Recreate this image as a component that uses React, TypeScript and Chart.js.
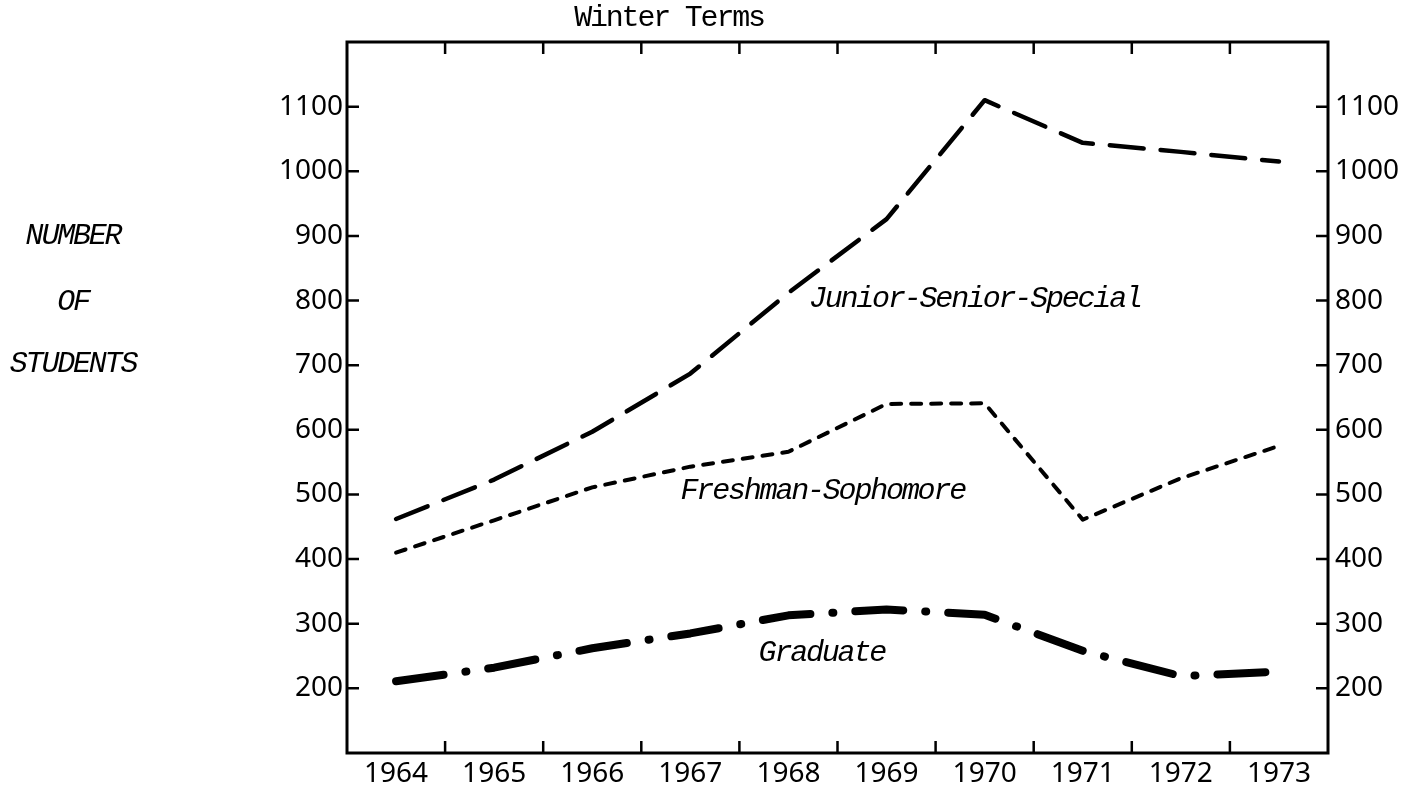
import { useEffect, useRef } from 'react';
import { Chart, registerables } from 'chart.js';

Chart.register(...registerables);

const years = ['1964', '1965', '1966', '1967', '1968', '1969', '1970', '1971', '1972', '1973'];
const juniorSeniorSpecial = [462, 523, 597, 687, 812, 926, 1110, 1044, 1030, 1015];
const freshmanSophomore = [410, 460, 511, 543, 566, 640, 641, 461, 525, 575];
const graduate = [211, 232, 262, 285, 313, 322, 314, 258, 219, 226];
const yTickValues = [200, 300, 400, 500, 600, 700, 800, 900, 1000, 1100];
const chartTitle = 'Winter Terms';
const yTitleLines = ['NUMBER', 'OF', 'STUDENTS'];
const seriesNames = ['Junior-Senior-Special', 'Freshman-Sophomore', 'Graduate'];

const W = 1415;
const H = 789;
const MONO = '"Liberation Mono", "DejaVu Sans Mono", monospace';
const TICK_FONT = { family: '"Noto Sans", "DejaVu Sans", sans-serif', size: 28 };

export default function App() {
  const ref = useRef<HTMLCanvasElement | null>(null);

  useEffect(() => {
    const canvas = ref.current;
    if (!canvas) return;

    const framePlugin = {
      id: 'frameAndText',
      afterDraw(chart: any) {
        const { ctx, chartArea: a, scales } = chart;
        const xs = scales.x;
        const ys = scales.y;
        ctx.save();
        ctx.strokeStyle = '#000';
        ctx.lineCap = 'butt';
        // inward tick marks
        ctx.lineWidth = 2.5;
        ctx.beginPath();
        for (let i = 1; i < years.length; i++) {
          const px = xs.getPixelForValue(i - 0.5);
          ctx.moveTo(px, a.bottom);
          ctx.lineTo(px, a.bottom - 12);
          ctx.moveTo(px, a.top);
          ctx.lineTo(px, a.top + 12);
        }
        for (const v of yTickValues) {
          const py = ys.getPixelForValue(v);
          ctx.moveTo(a.left, py);
          ctx.lineTo(a.left + 12, py);
          ctx.moveTo(a.right, py);
          ctx.lineTo(a.right - 12, py);
        }
        ctx.stroke();
        // frame
        ctx.lineWidth = 3;
        ctx.strokeRect(a.left, a.top, a.right - a.left, a.bottom - a.top);

        ctx.fillStyle = '#000';
        ctx.textAlign = 'center';
        ctx.textBaseline = 'middle';
        try {
          (ctx as any).letterSpacing = '-2.2px';
        } catch (e) {
          /* ignore */
        }

        // title
        ctx.font = `30px ${MONO}`;
        ctx.fillText(chartTitle, 669, 18);

        // y-axis title block
        ctx.font = `italic 30px ${MONO}`;
        const yTitleY = [236, 302, 364];
        yTitleLines.forEach((t, i) => ctx.fillText(t, 73, yTitleY[i]));

        // series labels anchored in data coordinates
        const anchors = [
          { idx: 5.9, val: 802 },
          { idx: 4.35, val: 506 },
          { idx: 4.34, val: 254 },
        ];
        seriesNames.forEach((name, i) => {
          const px = xs.getPixelForValue(anchors[i].idx);
          const py = ys.getPixelForValue(anchors[i].val);
          ctx.fillText(name, px, py);
        });
        ctx.restore();
      },
    };

    const chart = new Chart(canvas, {
      type: 'line',
      data: {
        labels: years,
        datasets: [
          {
            label: seriesNames[0],
            data: juniorSeniorSpecial,
            borderColor: '#000',
            borderWidth: 4.5,
            borderDash: [34, 17],
            borderCapStyle: 'round',
            borderJoinStyle: 'round',
            pointRadius: 0,
            tension: 0,
            fill: false,
            yAxisID: 'y',
          },
          {
            label: seriesNames[1],
            data: freshmanSophomore,
            borderColor: '#000',
            borderWidth: 4,
            borderDash: [10, 10],
            borderCapStyle: 'round',
            borderJoinStyle: 'round',
            pointRadius: 0,
            tension: 0,
            fill: false,
            yAxisID: 'y',
          },
          {
            label: seriesNames[2],
            data: graduate,
            borderColor: '#000',
            borderWidth: 8,
            borderDash: [48, 22, 1, 22],
            borderCapStyle: 'round',
            borderJoinStyle: 'round',
            pointRadius: 0,
            tension: 0,
            fill: false,
            yAxisID: 'y',
          },
        ],
      },
      options: {
        responsive: false,
        animation: false,
        devicePixelRatio: 1,
        layout: { padding: { top: 42, left: 0, right: 0, bottom: 0 } },
        plugins: {
          legend: { display: false },
          tooltip: { enabled: false },
          title: { display: false },
        },
        scales: {
          x: {
            type: 'category',
            offset: true,
            grid: { display: false, drawTicks: false, offset: true },
            border: { display: false },
            ticks: { color: '#000', font: TICK_FONT, padding: 4, maxRotation: 0, autoSkip: false },
            afterFit(s: any) {
              s.height = 36;
            },
          },
          y: {
            type: 'linear',
            position: 'left',
            min: 100,
            max: 1200,
            grid: { display: false, drawTicks: false },
            border: { display: false },
            ticks: {
              stepSize: 100,
              color: '#000',
              font: TICK_FONT,
              padding: 4,
              callback: (v: any) => (yTickValues.includes(Number(v)) ? String(v) : ''),
            },
            afterFit(s: any) {
              s.width = 347;
            },
          },
          y2: {
            type: 'linear',
            position: 'right',
            min: 100,
            max: 1200,
            grid: { display: false, drawTicks: false },
            border: { display: false },
            ticks: {
              stepSize: 100,
              color: '#000',
              font: TICK_FONT,
              padding: 7,
              callback: (v: any) => (yTickValues.includes(Number(v)) ? String(v) : ''),
            },
            afterFit(s: any) {
              s.width = W - 1328;
            },
          },
        },
      },
      plugins: [framePlugin],
    } as any);

    return () => chart.destroy();
  }, []);

  return (
    <div style={{ position: 'fixed', left: 0, top: 0, width: W, height: H, background: '#fff' }}>
      <canvas ref={ref} width={W} height={H} style={{ display: 'block', width: W, height: H }} />
    </div>
  );
}
